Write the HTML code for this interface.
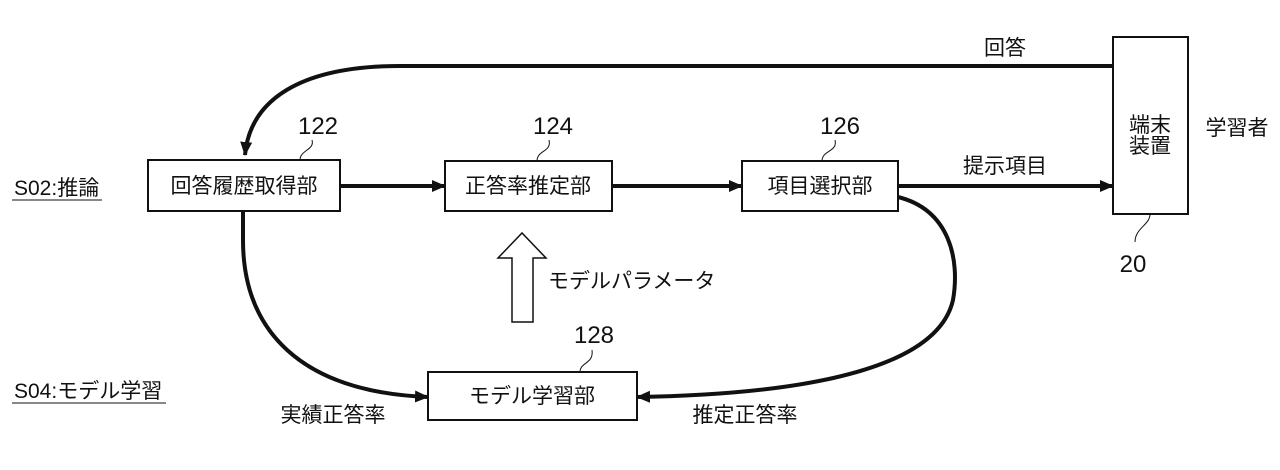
<!DOCTYPE html>
<html><head><meta charset="utf-8"><style>
body{margin:0;background:#fff;width:1280px;height:465px;overflow:hidden}
svg text{font-family:"Liberation Sans","Noto Sans CJK JP",sans-serif;fill:#111}
</style></head><body>
<svg width="1280" height="465" viewBox="0 0 1280 465">
<defs><marker id="b" markerWidth="14" markerHeight="14" refX="13" refY="7" orient="auto" markerUnits="userSpaceOnUse"><path d="M0,1 L14,7 L0,13 z" fill="#111"/></marker></defs>
<g fill="none" stroke="#111" stroke-width="4">
<path d="M1113,66 L400,66 C300,66 250,100 245,155" marker-end="url(#b)"/>
<path d="M243,211 L243,240 C243,330 300,392 428,397" marker-end="url(#b)"/>
<path d="M898,197 C950,210 960,260 953,300 C935,380 760,395 637,397" marker-end="url(#b)"/>
<path d="M340,186 L445,186" marker-end="url(#b)"/>
<path d="M612,186 L742,186" marker-end="url(#b)"/>
<path d="M898,186 L1113,186" marker-end="url(#b)"/>
</g>
<g fill="#fff" stroke="#111" stroke-width="2">
<rect x="148" y="160" width="192" height="51"/>
<rect x="445" y="161" width="167" height="50"/>
<rect x="742" y="161" width="156" height="50"/>
<rect x="1113" y="37" width="75" height="177"/>
<rect x="428" y="372" width="209" height="48"/>
<path d="M512,322 L512,258 L498,258 L522,233 L546,258 L533,258 L533,322 Z" stroke-width="1.5"/>
</g>
<g fill="none" stroke="#111" stroke-width="1">
<path d="M300,160 C300,150 315,150 312,140"/>
<path d="M537,161 C537,150 552,152 549,140"/>
<path d="M822,161 C822,150 838,152 835,140"/>
<path d="M580,372 C580,362 594,364 592,350"/>
<path d="M1150,214 C1150,225 1135,228 1135,242"/>
<line x1="12" y1="200" x2="102" y2="200"/>
<line x1="12" y1="403" x2="166" y2="403"/>
</g>
<g font-size="21">
<text x="244" y="193" text-anchor="middle">回答履歴取得部</text>
<text x="528" y="193" text-anchor="middle">正答率推定部</text>
<text x="820" y="193" text-anchor="middle">項目選択部</text>
<text x="532" y="403" text-anchor="middle">モデル学習部</text>
<text x="1150" y="132" text-anchor="middle">端末</text>
<text x="1150" y="153" text-anchor="middle">装置</text>
<text x="1005" y="55" text-anchor="middle">回答</text>
<text x="1237" y="135" text-anchor="middle">学習者</text>
<text x="1005" y="173" text-anchor="middle">提示項目</text>
<text x="548" y="288">モデルパラメータ</text>
<text x="333" y="422" text-anchor="middle">実績正答率</text>
<text x="745" y="422" text-anchor="middle">推定正答率</text>
<text x="14" y="195">S02:推論</text>
<text x="14" y="398">S04:モデル学習</text>
</g>
<g font-size="24">
<text x="318" y="134" text-anchor="middle">122</text>
<text x="553" y="134" text-anchor="middle">124</text>
<text x="840" y="134" text-anchor="middle">126</text>
<text x="594" y="343" text-anchor="middle">128</text>
<text x="1133" y="272" text-anchor="middle">20</text>
</g>
</svg>
</body></html>
